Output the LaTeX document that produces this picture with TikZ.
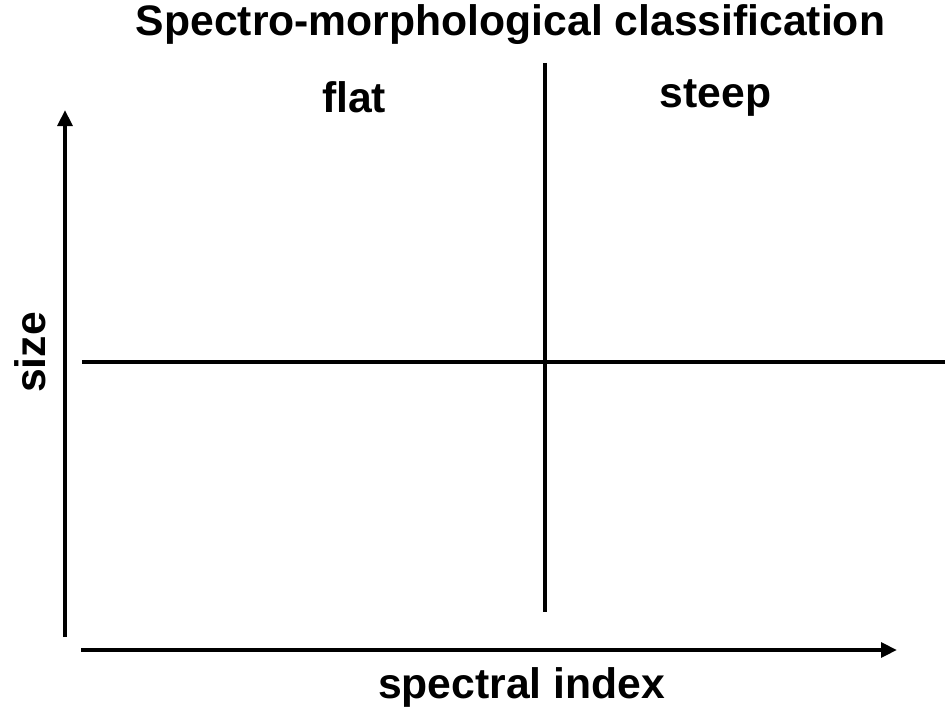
\documentclass[tikz,border=0pt]{standalone}
\usepackage{fontspec}
\setmainfont{Liberation Sans}
\usetikzlibrary{arrows.meta}
\tikzset{
  every picture/.style={font=\bfseries, line width=3pt},
  axis/.style={-{Triangle[length=12pt, width=11pt]}, draw=black, line width=3pt},
  divider/.style={draw=black, line width=3pt, line cap=butt},
  label/.style={font=\fontsize{32}{36}\selectfont\bfseries, inner sep=0pt, anchor=base},
}

\begin{document}
\begin{tikzpicture}[x=0.75pt, y=-0.75pt]
  \useasboundingbox (0, 0) rectangle (945, 710);
  % axes
  \coordinate (yfoot) at (65, 637);
  \coordinate (ytip) at (65, 110);
  \coordinate (xfoot) at (81, 650);
  \coordinate (xtip) at (897, 650);
  \draw[axis] (yfoot) -- (ytip);
  \draw[axis] (xfoot) -- (xtip);
  % the two dividing lines
  \coordinate (hleft) at (82, 361.5);
  \coordinate (hright) at (945, 361.5);
  \coordinate (vtop) at (545, 63);
  \coordinate (vbot) at (545, 612);
  \draw[divider] (hleft) -- (hright);
  \draw[divider] (vtop) -- (vbot);
  % texts
  \node[label] (title) at (510.5, 36) {Spectro-morphological classification};
  \node[label] (flat) at (354, 113) {flat};
  \node[label] (steep) at (715.5, 107) {steep};
  \node[label, rotate=90] (size) at (45, 352.5) {size};
  \node[label] (index) at (521.5, 698) {spectral index};
\end{tikzpicture}
\end{document}
